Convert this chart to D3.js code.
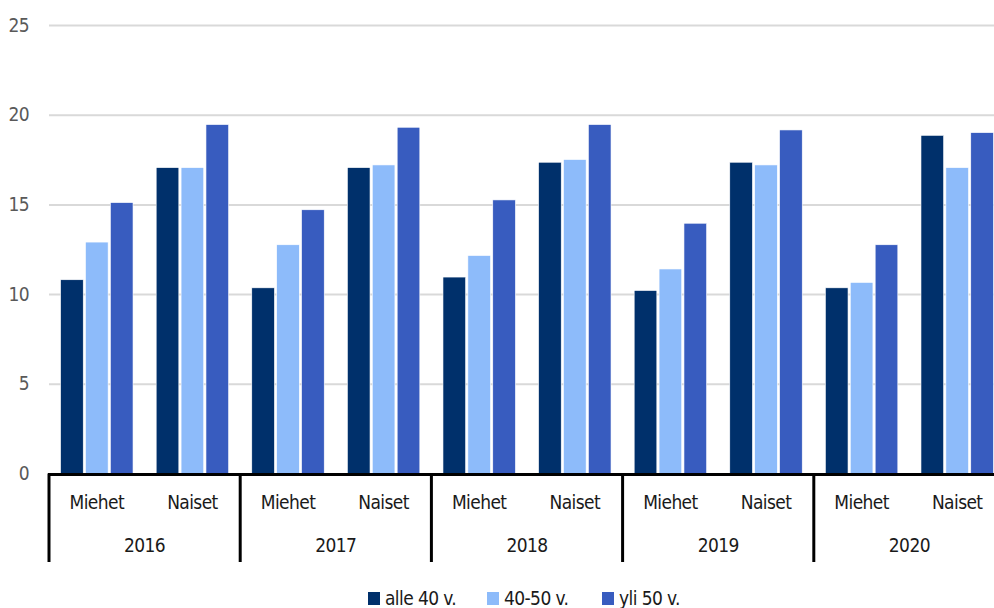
<!DOCTYPE html>
<html>
<head>
<meta charset="utf-8">
<script src="https://cdn.jsdelivr.net/npm/d3@7"></script>
<style>
  body { margin: 0; background: #fff; }
  svg { display: block; font-family: "DejaVu Sans Condensed", "Liberation Sans Narrow", sans-serif; }
  svg text { letter-spacing: -0.6px; }
</style>
</head>
<body>
<svg id="chart" width="994" height="608"></svg>
<script>
// data
const years = ['2016', '2017', '2018', '2019', '2020'];
const genders = ['Miehet', 'Naiset'];
const series = ['alle 40 v.', '40-50 v.', 'yli 50 v.'];
const colors = ['#00306b', '#8dbbfa', '#385cbf'];
const yTicks = [0, 5, 10, 15, 20, 25];

// values per series, order: 2016 M, 2016 N, 2017 M, 2017 N, ...
const alle40 = [10.8, 17.05, 10.35, 17.05, 10.95, 17.35, 10.2, 17.35, 10.35, 18.85];
const v40to50 = [12.9, 17.05, 12.75, 17.2, 12.15, 17.5, 11.4, 17.2, 10.65, 17.05];
const yli50 = [15.1, 19.45, 14.7, 19.3, 15.25, 19.45, 13.95, 19.15, 12.75, 19.0];
const seriesValues = [alle40, v40to50, yli50];

const svg = d3.select('#chart');
const W = 994;
const plotLeft = 49, plotRight = 1005;
const plotTop = 25, plotBottom = 473.5;

const y = d3.scaleLinear().domain([0, 25]).range([plotBottom, plotTop]);
const x0 = d3.scaleBand().domain(years).range([plotLeft, plotRight]).padding(0);
const x1 = d3.scaleBand().domain(genders).range([0, x0.bandwidth()]).padding(0);
const x2 = d3.scaleBand().domain(series).range([0, x1.bandwidth()])
  .paddingInner(0.09).paddingOuter(0.465);

// gridlines
const grid = svg.append('g').attr('transform', `translate(${plotLeft},0)`)
  .call(d3.axisLeft(y).tickValues(yTicks.slice(1)).tickSize(-(W - plotLeft)).tickFormat(''));
grid.select('.domain').remove();
grid.selectAll('line').attr('stroke', '#d9d9d9').attr('stroke-width', 2);

// y labels
const yax = svg.append('g').attr('transform', 'translate(29,0)')
  .call(d3.axisLeft(y).tickValues(yTicks).tickSize(0).tickPadding(0));
yax.select('.domain').remove();
yax.selectAll('text').attr('fill', '#595959').attr('font-size', '19px')
  .attr('font-family', '"DejaVu Sans Condensed", "Liberation Sans Narrow", sans-serif')
  .attr('dy', '0.32em');

// bars
const rows = [];
years.forEach((yr, i) => genders.forEach((gd, j) => {
  series.forEach((s, k) => rows.push({ yr, gd, s, k, v: seriesValues[k][i * 2 + j] }));
}));

svg.append('g').selectAll('rect').data(rows).join('rect')
  .attr('x', d => x0(d.yr) + x1(d.gd) + x2(d.s))
  .attr('y', d => y(d.v))
  .attr('width', x2.bandwidth())
  .attr('height', d => y(0) - y(d.v))
  .attr('fill', d => colors[d.k])
  .attr('stroke', '#fff').attr('stroke-width', 0.6);

// category axis
const axis = svg.append('g');
axis.append('line').attr('x1', plotLeft - 1).attr('x2', W).attr('y1', plotBottom + 1).attr('y2', plotBottom + 1)
  .attr('stroke', '#000').attr('stroke-width', 3);
axis.selectAll('line.sep').data(years.concat(['end'])).join('line').attr('class', 'sep')
  .attr('x1', (d, i) => plotLeft + i * x0.bandwidth()).attr('x2', (d, i) => plotLeft + i * x0.bandwidth())
  .attr('y1', plotBottom).attr('y2', 562)
  .attr('stroke', '#000').attr('stroke-width', 3);

years.forEach(yr => {
  genders.forEach(gd => {
    axis.append('text')
      .attr('x', x0(yr) + x1(gd) + x1.bandwidth() / 2).attr('y', 509)
      .attr('text-anchor', 'middle').attr('font-size', '19px').attr('fill', '#1a1a1a')
      .text(gd);
  });
  axis.append('text')
    .attr('x', x0(yr) + x0.bandwidth() / 2).attr('y', 552)
    .attr('text-anchor', 'middle').attr('font-size', '19px').attr('fill', '#1a1a1a')
    .text(yr);
});

// legend
const legendX = [368, 487, 602];
const legend = svg.append('g');
series.forEach((s, k) => {
  legend.append('rect').attr('x', legendX[k]).attr('y', 592).attr('width', 12).attr('height', 13)
    .attr('fill', colors[k]);
  legend.append('text').attr('x', legendX[k] + 17).attr('y', 605)
    .attr('font-size', '19px').attr('fill', '#1a1a1a').text(s);
});
</script>
</body>
</html>
